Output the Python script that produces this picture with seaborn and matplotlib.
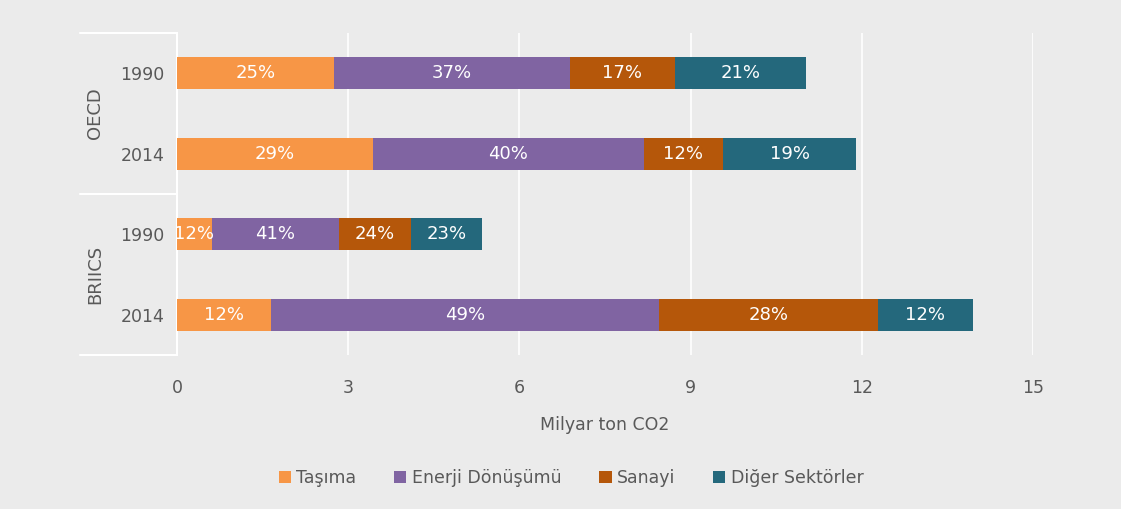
import numpy as np
import pandas as pd
import matplotlib
matplotlib.use("Agg")
import matplotlib.pyplot as plt
import seaborn as sns
from matplotlib.patches import Patch

# data (billion tonnes CO2)
groups = ["OECD", "OECD", "BRIICS", "BRIICS"]
years = ["1990", "2014", "1990", "2014"]
sectors = ["Taşıma", "Enerji Dönüşümü", "Sanayi", "Diğer Sektörler"]
tasima = [2.75, 3.43, 0.61, 1.65]
enerji = [4.14, 4.75, 2.23, 6.80]
sanayi = [1.83, 1.39, 1.26, 3.83]
diger = [2.31, 2.33, 1.24, 1.67]
pct_labels = [
    ["25%", "37%", "17%", "21%"],
    ["29%", "40%", "12%", "19%"],
    ["12%", "41%", "24%", "23%"],
    ["12%", "49%", "28%", "12%"],
]
colors = ["#F79646", "#8064A2", "#B5570A", "#24687C"]

sns.set_style("white")
plt.rcParams["font.family"] = ["DejaVu Sans"]
text_color = "#595959"
bg = "#EBEBEB"

rows = [f"{g} {y}" for g, y in zip(groups, years)]
vals = np.array([tasima, enerji, sanayi, diger]).T
cum = vals.cumsum(axis=1)
df = pd.DataFrame(cum, columns=sectors)
df["row"] = rows

fig = plt.figure(figsize=(11.21, 5.09), dpi=100, facecolor=bg)
ax = fig.add_axes([177 / 1121, 1 - 355 / 509, 856 / 1121, 322 / 509])
ax.set_facecolor(bg)

# stacked bars: draw cumulative totals from the largest down
for i in range(len(sectors) - 1, -1, -1):
    sns.barplot(data=df, x=sectors[i], y="row", orient="h", color=colors[i],
                width=0.4, saturation=1, ax=ax, zorder=3,
                edgecolor="none", linewidth=0)

for r in range(len(rows)):
    for i in range(len(sectors)):
        left = cum[r, i] - vals[r, i]
        ax.text(left + vals[r, i] / 2, r, pct_labels[r][i], ha="center",
                va="center", color="white", fontsize=13, zorder=5)

ax.set_xlim(0, 15)
ax.set_ylim(3.5, -0.5)
ax.set_xticks([0, 3, 6, 9, 12, 15])
ax.xaxis.grid(True, color="white", linewidth=1.2, zorder=0)
ax.set_axisbelow(True)
for s in ["top", "right", "bottom"]:
    ax.spines[s].set_visible(False)
ax.spines["left"].set_color("white")
ax.spines["left"].set_linewidth(1.5)
ax.tick_params(axis="x", length=0, pad=17, labelsize=12.5, labelcolor=text_color)
ax.tick_params(axis="y", length=0, pad=9, labelsize=12.5, labelcolor=text_color)
ax.set_yticks(range(len(rows)))
ax.set_yticklabels(years)
ax.set_ylabel("")
ax.set_xlabel("Milyar ton CO2", fontsize=12.5, color=text_color, labelpad=14)

# group bracket lines on the left
x0 = -97 / 856
for yy in [0, 0.5, 1]:
    ax.plot([x0, 0], [yy, yy], transform=ax.transAxes, color="white",
            linewidth=1.5, clip_on=False)
ax.text(-82 / 856, 0.75, "OECD", transform=ax.transAxes, rotation=90,
        ha="center", va="center", fontsize=13, color=text_color)
ax.text(-82 / 856, 0.25, "BRIICS", transform=ax.transAxes, rotation=90,
        ha="center", va="center", fontsize=13, color=text_color)

handles = [Patch(facecolor=c, edgecolor="none") for c in colors]
fig.legend(handles, sectors, loc="center", ncol=4,
           bbox_to_anchor=(571 / 1121, 1 - 478 / 509), frameon=False,
           fontsize=12.5, labelcolor=text_color, handlelength=0.7,
           handleheight=0.7, handletextpad=0.3, columnspacing=2.2)

fig.savefig("out.png", dpi=100, facecolor=bg)
